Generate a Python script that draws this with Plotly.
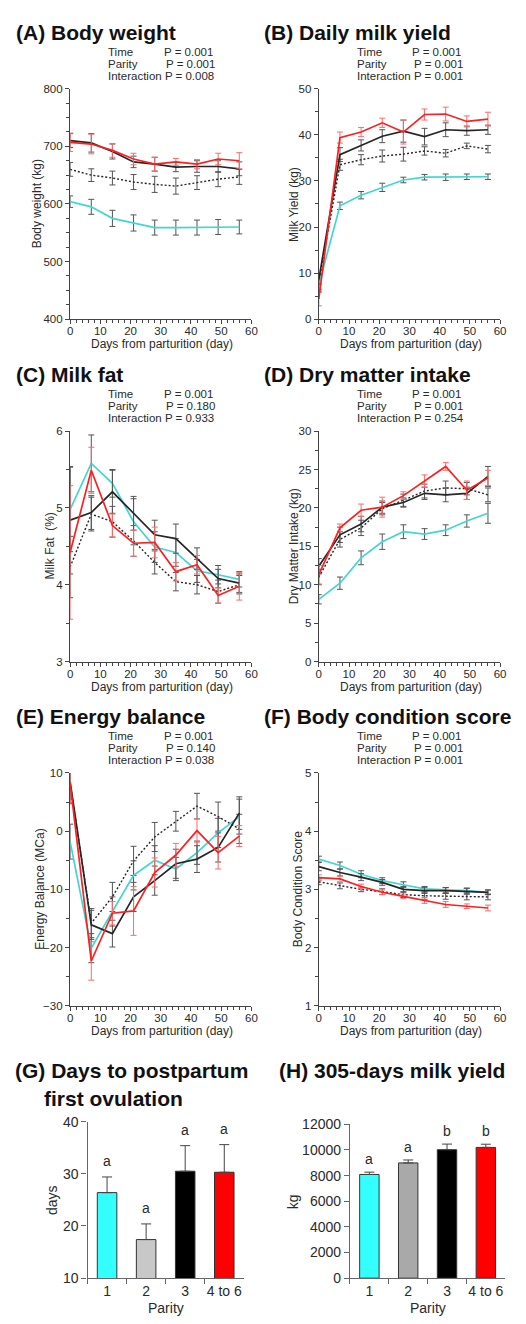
import plotly.graph_objects as go

W, H = 526, 1324
FONT = "Liberation Sans, Arial, Helvetica, sans-serif"

# ---------------- data ----------------
days = [0, 7, 14, 21, 28, 35, 42, 49, 56]
parity_labels = ["1", "2", "3", "4 to 6"]

# (A) Body weight (kg)
bw_p1 = [604, 595, 575, 567, 559, 559, 559, 560, 560]
bw_p1_se = [10, 13, 14, 14, 13, 13, 13, 13, 12]
bw_p2 = [660, 650, 645, 638, 634, 631, 637, 643, 647]
bw_p2_se = [12, 11, 12, 13, 14, 14, 12, 13, 13]
bw_p3 = [710, 706, 691, 673, 669, 664, 665, 665, 661]
bw_p3_se = [12, 16, 13, 10, 12, 8, 10, 10, 12]
bw_p4 = [707, 704, 693, 678, 669, 673, 669, 678, 675]
bw_p4_se = [16, 17, 12, 10, 12, 6, 8, 10, 14]

# (B) Daily milk yield (kg)
my_p1 = [7.4, 24.6, 26.9, 28.6, 30.2, 30.8, 30.8, 30.9, 30.9]
my_p1_se = [1.5, 0.8, 0.8, 0.9, 0.6, 0.6, 0.7, 0.6, 0.6]
my_p2 = [7.9, 33.5, 34.6, 35.4, 35.8, 36.5, 36.0, 37.6, 36.9]
my_p2_se = [1.5, 1.2, 1.1, 1.3, 1.5, 0.9, 0.8, 0.6, 0.8]
my_p3 = [8.6, 35.7, 37.7, 39.7, 40.8, 39.6, 41.1, 40.9, 41.1]
my_p3_se = [1.0, 1.5, 1.2, 1.4, 2.4, 1.8, 1.5, 1.0, 1.0]
my_p4 = [4.4, 39.4, 40.6, 42.6, 40.6, 44.4, 44.5, 42.9, 43.4]
my_p4_se = [1.5, 1.2, 1.0, 1.0, 2.6, 1.2, 1.5, 1.2, 1.5]

# (C) Milk fat (%)
mf_p1 = [4.98, 5.58, 5.32, 4.82, 4.49, 4.42, 4.18, 4.13, 4.07]
mf_p1_se = [0.55, 0.37, 0.18, 0.3, 0.2, 0.18, 0.15, 0.12, 0.1]
mf_p2 = [4.23, 4.92, 4.82, 4.57, 4.29, 4.04, 4.00, 3.91, 4.00]
mf_p2_se = [0.4, 0.22, 0.2, 0.2, 0.15, 0.12, 0.12, 0.15, 0.12]
mf_p3 = [4.84, 4.94, 5.21, 4.93, 4.65, 4.60, 4.34, 4.08, 4.02]
mf_p3_se = [0.7, 0.22, 0.28, 0.22, 0.19, 0.19, 0.14, 0.12, 0.12]
mf_p4 = [4.42, 5.49, 4.77, 4.54, 4.55, 4.17, 4.26, 3.86, 3.98]
mf_p4_se = [0.87, 0.3, 0.15, 0.17, 0.2, 0.12, 0.12, 0.1, 0.18]

# (D) Dry matter intake (kg)
dmi_p1 = [8.1, 10.2, 13.5, 15.6, 16.9, 16.6, 17.1, 18.3, 19.3]
dmi_p1_se = [0.6, 0.8, 0.9, 1.0, 0.9, 0.7, 0.7, 0.8, 1.3]
dmi_p2 = [11.0, 15.9, 17.4, 19.9, 21.0, 22.2, 22.6, 22.5, 21.7]
dmi_p2_se = [1.0, 1.0, 1.0, 0.8, 0.8, 0.9, 0.9, 0.8, 0.9]
dmi_p3 = [12.4, 16.5, 17.9, 20.1, 20.7, 21.9, 21.7, 21.9, 24.1]
dmi_p3_se = [1.0, 1.0, 1.0, 0.8, 0.6, 0.8, 0.9, 0.8, 1.3]
dmi_p4 = [11.3, 17.4, 19.7, 20.1, 21.6, 23.5, 25.4, 22.3, 23.9]
dmi_p4_se = [1.2, 0.5, 0.8, 1.3, 0.5, 0.8, 0.5, 1.2, 1.0]

# (E) Energy balance (MCa)
eb_p1 = [-1.8, -20.1, -13.8, -7.6, -5.0, -6.5, -3.7, -0.3, 2.5]
eb_p1_se = [3.0, 2.5, 2.5, 2.5, 2.5, 2.0, 2.0, 2.5, 3.0]
eb_p2 = [8.2, -15.8, -11.3, -5.1, -1.0, 1.7, 4.3, 2.5, 0.4]
eb_p2_se = [3.5, 2.5, 2.5, 2.5, 2.5, 1.7, 2.2, 2.5, 2.5]
eb_p3 = [8.5, -16.1, -17.6, -11.3, -8.5, -5.6, -4.8, -2.8, 3.1]
eb_p3_se = [3.0, 2.5, 2.3, 2.5, 2.5, 2.5, 2.3, 2.5, 2.8]
eb_p4 = [8.2, -22.3, -14.1, -13.7, -7.1, -4.1, 0.1, -3.7, -0.85]
eb_p4_se = [3.3, 3.3, 2.0, 4.2, 2.5, 2.0, 2.0, 2.8, 1.8]

# (F) Body condition score
bcs_p1 = [3.52, 3.41, 3.26, 3.15, 3.08, 3.01, 2.99, 2.98, 2.95]
bcs_p1_se = [0.05, 0.06, 0.06, 0.05, 0.05, 0.04, 0.04, 0.04, 0.04]
bcs_p2 = [3.13, 3.06, 3.00, 2.96, 2.91, 2.89, 2.88, 2.87, 2.87]
bcs_p2_se = [0.05, 0.05, 0.04, 0.05, 0.05, 0.06, 0.05, 0.05, 0.05]
bcs_p3 = [3.39, 3.29, 3.21, 3.12, 3.00, 2.98, 2.98, 2.97, 2.95]
bcs_p3_se = [0.07, 0.06, 0.06, 0.05, 0.05, 0.05, 0.05, 0.05, 0.04]
bcs_p4 = [3.20, 3.18, 3.05, 2.95, 2.88, 2.81, 2.74, 2.71, 2.68]
bcs_p4_se = [0.05, 0.05, 0.04, 0.04, 0.04, 0.05, 0.05, 0.04, 0.05]

# (G) Days to postpartum first ovulation
ov_days = [26.4, 17.4, 30.5, 30.3]
ov_se = [3.0, 3.0, 4.9, 5.3]
ov_letters = ["a", "a", "a", "a"]

# (H) 305-days milk yield (kg)
my305 = [8090, 8990, 10020, 10200]
my305_se = [180, 230, 440, 250]
my305_letters = ["a", "a", "b", "b"]

p_values = {
    "A": ["0.001", "0.001", "0.008"],
    "B": ["0.001", "0.001", "0.001"],
    "C": ["0.001", "0.180", "0.933"],
    "D": ["0.001", "0.001", "0.254"],
    "E": ["0.001", "0.140", "0.038"],
    "F": ["0.001", "0.001", "0.001"],
}

# ---------------- styles ----------------
CYAN = "#3fd6d6"
RED = "#ff1f1f"
BLACK = "#262626"
ERR_GRAY = "#555555"
ERR_RED = "#ff6a6a"
AXIS = "#444444"
TXT = "#2a2a2a"


def px_x(x):
    return x / W


def px_y(y):
    return 1 - y / H


def note(text, x, y, size, xanchor="left", color=TXT, angle=0):
    return dict(text=text, x=px_x(x), y=px_y(y), xref="paper", yref="paper",
                xanchor=xanchor, yanchor="middle", showarrow=False, textangle=angle,
                font=dict(size=size, color=color, family=FONT))


fig = go.Figure()

# panel geometry in pixels (x0, x1, ytop, ybottom)
line_panels = [
    ("A", "Body weight", (68.3, 252.7, 81.7, 315), [400, 800], 100, 25, "Body weight (kg)", 35,
     [(bw_p2, bw_p2_se), (bw_p1, bw_p1_se), (bw_p3, bw_p3_se), (bw_p4, bw_p4_se)]),
    ("B", "Daily milk yield", (321.3, 505.7, 81.7, 315), [0, 50], 10, 5, "Milk Yield (kg)", 296,
     [(my_p2, my_p2_se), (my_p1, my_p1_se), (my_p3, my_p3_se), (my_p4, my_p4_se)]),
    ("C", "Milk fat", (68.3, 252.7, 428.3, 661.5), [3, 6], 1, 0.5, "Milk Fat  (%)", 48,
     [(mf_p2, mf_p2_se), (mf_p1, mf_p1_se), (mf_p3, mf_p3_se), (mf_p4, mf_p4_se)]),
    ("D", "Dry matter intake", (321.3, 505.7, 428.3, 661.5), [0, 30], 5, 2.5, "Dry Matter Intake (kg)", 296,
     [(dmi_p2, dmi_p2_se), (dmi_p1, dmi_p1_se), (dmi_p3, dmi_p3_se), (dmi_p4, dmi_p4_se)]),
    ("E", "Energy balance", (68.3, 252.7, 774.3, 1010), [-30, 10], 10, 5, "Energy Balance (MCa)", 38,
     [(eb_p2, eb_p2_se), (eb_p1, eb_p1_se), (eb_p3, eb_p3_se), (eb_p4, eb_p4_se)]),
    ("F", "Body condition score", (321.3, 505.7, 774.3, 1010), [1, 5], 1, 0.5, "Body Condition Score", 301,
     [(bcs_p2, bcs_p2_se), (bcs_p1, bcs_p1_se), (bcs_p3, bcs_p3_se), (bcs_p4, bcs_p4_se)]),
]

series_style = [
    dict(name="Parity 2", line=dict(color=BLACK, width=1.4, dash="2px,2px"), err=ERR_GRAY),
    dict(name="Parity 1", line=dict(color=CYAN, width=1.7), err=ERR_GRAY),
    dict(name="Parity 3", line=dict(color=BLACK, width=1.7), err=ERR_GRAY),
    dict(name="Parity 4 to 6", line=dict(color=RED, width=1.7), err=ERR_RED),
]

annotations = []
layout_axes = {}

for i, (key, title, geom, yrange, dtick, mdtick, ytitle, ytx, series) in enumerate(line_panels):
    n = i + 1
    xa = "x" if n == 1 else f"x{n}"
    ya = "y" if n == 1 else f"y{n}"
    x0, x1, yt, yb = geom
    for (vals, se), st in zip(series, series_style):
        fig.add_trace(go.Scatter(
            x=days, y=vals, mode="lines", name=st["name"], showlegend=False,
            line=st["line"], xaxis=xa, yaxis=ya,
            error_y=dict(type="data", array=se, visible=True, color=st["err"],
                         thickness=1, width=3),
        ))
    axis_common = dict(showline=True, linecolor=AXIS, linewidth=1.4, ticks="outside",
                       ticklen=4, tickwidth=1, tickcolor=AXIS, showgrid=False, zeroline=False,
                       tickfont=dict(size=11.5, color=TXT, family=FONT))
    layout_axes[("xaxis" if n == 1 else f"xaxis{n}")] = dict(
        domain=[px_x(x0), px_x(x1)], anchor=ya, range=[0, 60], dtick=10, tick0=0,
        ticklabelstandoff=-3,
        minor=dict(dtick=2, ticklen=3, tickcolor=AXIS, ticks="outside", showgrid=False),
        **axis_common)
    layout_axes[("yaxis" if n == 1 else f"yaxis{n}")] = dict(
        domain=[px_y(yb), px_y(yt)], anchor=xa, range=yrange, dtick=dtick,
        tick0=yrange[0],
        minor=dict(dtick=mdtick, ticklen=3, tickcolor=AXIS, ticks="outside", showgrid=False),
        **axis_common)
    # panel title
    annotations.append(note(f"<b>({key}) {title}</b>", x0 - 57.5, yt - 57, 21, color="#111111"))
    # p-values
    for j, (lab, pv) in enumerate(zip(["Time", "Parity", "Interaction"], p_values[key])):
        yy = yt - 37.2 + j * 12.2
        if lab == "Interaction":
            annotations.append(note(f"{lab} P = {pv}", x0 + 36.5, yy, 11.5))
        else:
            annotations.append(note(lab, x0 + 36.5, yy, 11.5))
            annotations.append(note(f"P = {pv}", x0 + 93 + (2 if j == 1 else 0), yy, 11.5))
    # axis titles
    annotations.append(note(ytitle, ytx, (yt + yb) / 2, 12, xanchor="center", angle=-90))
    annotations.append(note("Days from parturition (day)", (x0 + x1) / 2 + 1.5, yb + 25.5, 12,
                            xanchor="center"))

# ---------------- bar panels ----------------
bar_panels = [
    (7, (86, 245, 1127.3, 1285.7), ov_days, ov_se, ov_letters, [10, 40], 10,
     ["#33ffff", "#c8c8c8", "#000000", "#ff0000"], "days", 50, 6),
    (8, (353, 511, 1130, 1285.7), my305, my305_se, my305_letters, [0, 12000], 2000,
     ["#33ffff", "#a9a9a9", "#000000", "#ff0000"], "kg", 295, 3),
]
for n, geom, vals, se, letters, yrange, dtick, colors, ytitle, ytx, lshift in bar_panels:
    xa, ya = f"x{n}", f"y{n}"
    x0, x1, yt, yb = geom
    fig.add_trace(go.Bar(
        x=parity_labels, y=vals, width=0.5, xaxis=xa, yaxis=ya, showlegend=False,
        marker=dict(color=colors, line=dict(color="#333333", width=1)),
        error_y=dict(type="data", symmetric=False, array=se, arrayminus=[0] * len(se),
                     color="#444444", thickness=1, width=5),
    ))
    axis_common = dict(showline=True, linecolor="#666666", linewidth=1.2, ticks="outside",
                       tickwidth=1, tickcolor="#666666", showgrid=False, zeroline=False,
                       tickfont=dict(size=14, color=TXT, family=FONT))
    layout_axes[f"xaxis{n}"] = dict(domain=[px_x(x0), px_x(x1)], anchor=ya, type="category",
                                    range=[-0.5, 3.5], tickson="boundaries", ticklen=5,
                                    tickangle=0, **axis_common)
    layout_axes[f"yaxis{n}"] = dict(domain=[px_y(yb), px_y(yt)], anchor=xa, range=yrange,
                                    dtick=dtick, tick0=yrange[0], ticklen=5, tickformat="d",
                                    **axis_common)
    for idx, (v, e, let) in enumerate(zip(vals, se, letters)):
        annotations.append(dict(text=let, x=idx, y=v + e, xref=xa, yref=ya, xanchor="center",
                                yanchor="bottom", yshift=lshift, showarrow=False,
                                font=dict(size=14, color=TXT, family=FONT)))
    annotations.append(note(ytitle, ytx, (yt + yb) / 2, 14, xanchor="center", angle=-90))
    annotations.append(note("Parity", (x0 + x1) / 2, 1316, 14, xanchor="center"))

# bar panel titles
annotations.append(note("<b>(G) Days to postpartum</b>", 10.5, 1076, 21, color="#111111"))
annotations.append(note("<b>first ovulation</b>", 40, 1104, 21, color="#111111"))
annotations.append(note("<b>(H) 305-days milk yield</b>", 279, 1076, 21, color="#111111"))

fig.update_layout(
    width=W, height=H, margin=dict(l=0, r=0, t=0, b=0),
    paper_bgcolor="white", plot_bgcolor="white",
    font=dict(family=FONT, color=TXT),
    showlegend=False, bargap=0.5,
    annotations=annotations,
    **layout_axes,
)

fig.write_html("out.html")
